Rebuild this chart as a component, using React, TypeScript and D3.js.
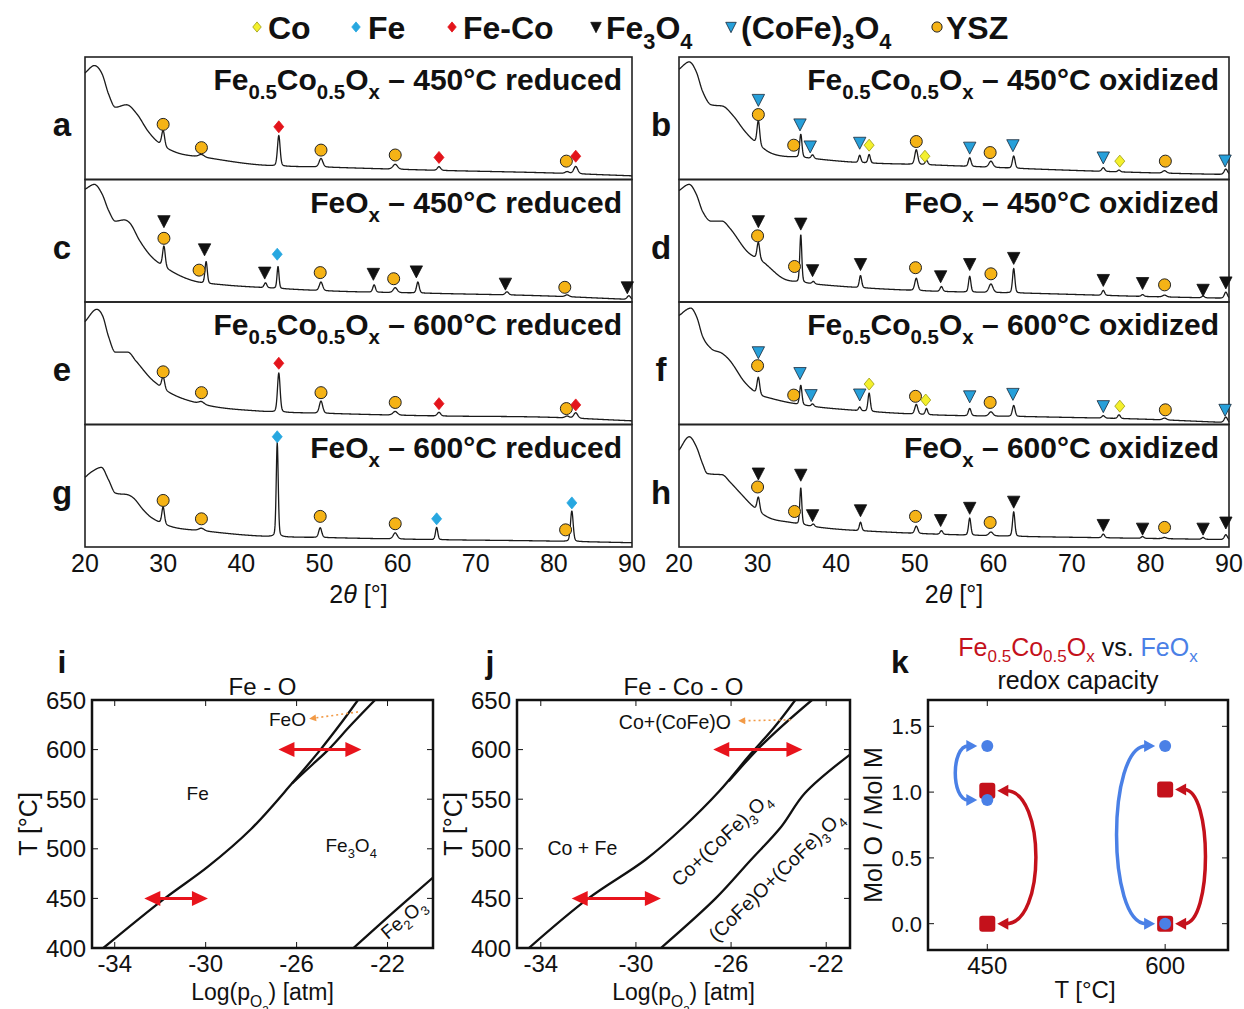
import React from "react";
import * as d3 from "d3";

const FONT = "'Liberation Sans', Arial, Helvetica, sans-serif";

type Knot = [number, number];
type Peak = [number, number, number]; // position, height, fwhm
type Mk = [string, number, number]; // phase, 2theta, height fraction

const TWO_THETA_TICKS = [20, 30, 40, 50, 60, 70, 80, 90];

// ---------- XRD panel a: Fe0.5Co0.5Ox 450 reduced ----------
const bgA: Knot[] = [[20, 0.87], [21.2, 0.93], [22.2, 0.86], [23.0, 0.7], [23.9, 0.59], [25.3, 0.61], [26.7, 0.53], [28.0, 0.4], [29.4, 0.3], [31.7, 0.22], [35.4, 0.18], [42.2, 0.12], [51.4, 0.1], [65, 0.075], [78.8, 0.055], [90, 0.03]];
const peaksA: Peak[] = [[30.0, 0.13, 0.45], [34.9, 0.02, 0.8], [44.8, 0.25, 0.4], [50.2, 0.07, 0.55], [59.7, 0.04, 0.7], [65.3, 0.03, 0.5], [81.7, 0.015, 0.6], [82.8, 0.06, 0.6]];
const markersA: Mk[] = [["YSZ", 30.0, 0.45], ["YSZ", 34.9, 0.26], ["FeCo", 44.8, 0.43], ["YSZ", 50.2, 0.24], ["YSZ", 59.7, 0.2], ["FeCo", 65.3, 0.18], ["YSZ", 81.6, 0.15], ["FeCo", 82.8, 0.19]];

// ---------- c: FeOx 450 reduced ----------
const bgC: Knot[] = [[20, 0.92], [21.2, 0.96], [22.2, 0.88], [23.0, 0.75], [23.9, 0.66], [25.0, 0.67], [25.8, 0.64], [27.0, 0.5], [28.5, 0.37], [30.8, 0.26], [34, 0.17], [37.7, 0.14], [42.2, 0.12], [51.4, 0.09], [65, 0.07], [78.8, 0.05], [90, 0.02]];
const peaksC: Peak[] = [[30.1, 0.17, 0.4], [35.5, 0.18, 0.35], [43.1, 0.04, 0.4], [44.7, 0.18, 0.3], [50.2, 0.07, 0.5], [57.0, 0.06, 0.4], [59.7, 0.04, 0.6], [62.6, 0.09, 0.4], [74.0, 0.025, 0.5], [81.7, 0.015, 0.6], [89.6, 0.03, 0.5]];
const markersC: Mk[] = [["Fe3O4", 30.1, 0.66], ["YSZ", 30.1, 0.52], ["Fe3O4", 35.3, 0.43], ["YSZ", 34.6, 0.26], ["Fe3O4", 43.0, 0.24], ["Fe", 44.6, 0.39], ["YSZ", 50.1, 0.24], ["Fe3O4", 56.9, 0.23], ["YSZ", 59.5, 0.19], ["Fe3O4", 62.4, 0.25], ["Fe3O4", 73.8, 0.15], ["YSZ", 81.4, 0.12], ["Fe3O4", 89.4, 0.12]];

// ---------- e: Fe0.5Co0.5Ox 600 reduced ----------
const bgE: Knot[] = [[20, 0.84], [21.5, 0.94], [22.3, 0.88], [23.0, 0.72], [23.9, 0.59], [25.5, 0.59], [26.5, 0.52], [28.5, 0.37], [30.8, 0.26], [35.4, 0.16], [42.2, 0.11], [51.4, 0.09], [65, 0.07], [78.8, 0.06], [90, 0.03]];
const peaksE: Peak[] = [[30.0, 0.1, 0.45], [34.9, 0.02, 0.8], [44.8, 0.32, 0.4], [50.2, 0.1, 0.5], [59.7, 0.03, 0.7], [65.3, 0.03, 0.5], [81.7, 0.015, 0.6], [82.8, 0.045, 0.6]];
const markersE: Mk[] = [["YSZ", 30.0, 0.43], ["YSZ", 34.9, 0.26], ["FeCo", 44.8, 0.5], ["YSZ", 50.2, 0.26], ["YSZ", 59.7, 0.18], ["FeCo", 65.3, 0.17], ["YSZ", 81.6, 0.13], ["FeCo", 82.8, 0.16]];

// ---------- g: FeOx 600 reduced ----------
const bgG: Knot[] = [[20, 0.57], [21, 0.62], [22.1, 0.65], [23.0, 0.55], [23.9, 0.44], [25.2, 0.43], [26.2, 0.4], [27.5, 0.3], [28.5, 0.24], [30.8, 0.17], [35.4, 0.13], [42.2, 0.09], [51.4, 0.076], [65, 0.06], [78, 0.05], [90, 0.035]];
const peaksG: Peak[] = [[30.0, 0.14, 0.4], [34.9, 0.02, 0.8], [44.6, 0.77, 0.3], [50.1, 0.08, 0.45], [59.7, 0.05, 0.6], [65.0, 0.1, 0.35], [82.3, 0.25, 0.4]];
const markersG: Mk[] = [["YSZ", 30.0, 0.38], ["YSZ", 34.9, 0.23], ["Fe", 44.6, 0.9], ["YSZ", 50.1, 0.25], ["YSZ", 59.7, 0.19], ["Fe", 65.0, 0.23], ["YSZ", 81.5, 0.14], ["Fe", 82.3, 0.36]];

// ---------- b: Fe0.5Co0.5Ox 450 oxidized ----------
const bgB: Knot[] = [[20, 0.9], [21.3, 0.96], [22.2, 0.88], [23.0, 0.72], [24.1, 0.61], [25.5, 0.6], [26.9, 0.52], [28.3, 0.4], [29.6, 0.31], [31.9, 0.21], [35.6, 0.18], [42.5, 0.14], [51.7, 0.12], [65.5, 0.085], [79.3, 0.056], [90, 0.04]];
const peaksB: Peak[] = [[30.1, 0.2, 0.4], [35.5, 0.19, 0.35], [37.0, 0.03, 0.4], [43.0, 0.06, 0.35], [44.2, 0.07, 0.35], [50.2, 0.12, 0.45], [51.5, 0.035, 0.4], [57.0, 0.07, 0.4], [59.7, 0.05, 0.6], [62.6, 0.1, 0.4], [74.0, 0.03, 0.45], [76.0, 0.015, 0.4], [81.8, 0.02, 0.6], [89.6, 0.045, 0.5]];
const markersB: Mk[] = [["CoFe", 30.1, 0.65], ["YSZ", 30.1, 0.53], ["CoFe", 35.4, 0.45], ["YSZ", 34.6, 0.28], ["CoFe", 36.7, 0.27], ["CoFe", 43.0, 0.3], ["Co", 44.2, 0.28], ["YSZ", 50.2, 0.31], ["Co", 51.3, 0.19], ["CoFe", 57.0, 0.26], ["YSZ", 59.6, 0.22], ["CoFe", 62.5, 0.28], ["CoFe", 74.0, 0.18], ["Co", 76.1, 0.15], ["YSZ", 81.9, 0.15], ["CoFe", 89.5, 0.155]];

// ---------- d: FeOx 450 oxidized ----------
const bgD: Knot[] = [[20, 0.91], [21.3, 0.96], [22.2, 0.88], [23.0, 0.74], [24.1, 0.66], [25.5, 0.66], [26.5, 0.6], [28.7, 0.41], [30.8, 0.32], [33.3, 0.19], [35.6, 0.16], [40.2, 0.13], [51.7, 0.09], [65.5, 0.07], [79.3, 0.045], [90, 0.03]];
const peaksD: Peak[] = [[30.1, 0.14, 0.4], [35.5, 0.39, 0.3], [37.1, 0.02, 0.4], [43.1, 0.1, 0.35], [50.2, 0.1, 0.45], [53.4, 0.04, 0.4], [57.0, 0.13, 0.35], [59.7, 0.07, 0.6], [62.6, 0.2, 0.35], [74.0, 0.04, 0.4], [79.0, 0.015, 0.4], [81.8, 0.015, 0.6], [86.7, 0.015, 0.4], [89.6, 0.05, 0.45]];
const markersD: Mk[] = [["Fe3O4", 30.1, 0.66], ["YSZ", 30.0, 0.54], ["Fe3O4", 35.5, 0.64], ["YSZ", 34.7, 0.29], ["Fe3O4", 37.0, 0.26], ["Fe3O4", 43.1, 0.31], ["YSZ", 50.1, 0.28], ["Fe3O4", 53.3, 0.21], ["Fe3O4", 57.0, 0.31], ["YSZ", 59.7, 0.23], ["Fe3O4", 62.6, 0.36], ["Fe3O4", 74.0, 0.18], ["Fe3O4", 79.0, 0.155], ["YSZ", 81.8, 0.14], ["Fe3O4", 86.7, 0.1], ["Fe3O4", 89.6, 0.16]];

// ---------- f: Fe0.5Co0.5Ox 600 oxidized ----------
const bgF: Knot[] = [[20, 0.89], [21.5, 0.95], [22.3, 0.87], [23.0, 0.72], [24.1, 0.62], [25.5, 0.58], [26.5, 0.52], [28.3, 0.35], [30.0, 0.25], [31.9, 0.21], [35.6, 0.16], [42.5, 0.115], [51.7, 0.08], [65.5, 0.063], [79.3, 0.043], [90, 0.015]];
const peaksF: Peak[] = [[30.1, 0.14, 0.4], [35.5, 0.16, 0.35], [37.0, 0.02, 0.4], [43.0, 0.03, 0.35], [44.2, 0.15, 0.35], [50.2, 0.08, 0.45], [51.5, 0.05, 0.35], [57.0, 0.06, 0.4], [59.7, 0.035, 0.6], [62.6, 0.09, 0.4], [74.0, 0.02, 0.45], [76.0, 0.03, 0.4], [81.8, 0.015, 0.6], [89.6, 0.045, 0.5]];
const markersF: Mk[] = [["CoFe", 30.1, 0.59], ["YSZ", 30.0, 0.48], ["CoFe", 35.4, 0.42], ["YSZ", 34.6, 0.24], ["CoFe", 36.8, 0.24], ["CoFe", 43.0, 0.245], ["Co", 44.2, 0.33], ["YSZ", 50.1, 0.23], ["Co", 51.4, 0.2], ["CoFe", 57.0, 0.23], ["YSZ", 59.6, 0.18], ["CoFe", 62.5, 0.25], ["CoFe", 74.0, 0.15], ["Co", 76.1, 0.15], ["YSZ", 81.9, 0.12], ["CoFe", 89.5, 0.12]];

// ---------- h: FeOx 600 oxidized ----------
const bgH: Knot[] = [[20, 0.79], [21.3, 0.9], [22.2, 0.82], [23.0, 0.68], [23.6, 0.6], [25.5, 0.59], [26.5, 0.53], [27.8, 0.44], [29.6, 0.32], [31.4, 0.24], [34.2, 0.2], [37.9, 0.16], [47.1, 0.12], [60.9, 0.09], [74.7, 0.075], [90, 0.06]];
const peaksH: Peak[] = [[30.1, 0.115, 0.4], [35.5, 0.3, 0.3], [37.1, 0.02, 0.4], [43.1, 0.07, 0.35], [50.2, 0.06, 0.45], [53.4, 0.03, 0.4], [57.0, 0.14, 0.35], [59.7, 0.03, 0.6], [62.6, 0.2, 0.35], [74.0, 0.03, 0.4], [79.0, 0.015, 0.4], [81.8, 0.01, 0.6], [86.7, 0.015, 0.4], [89.6, 0.04, 0.45]];
const markersH: Mk[] = [["Fe3O4", 30.1, 0.6], ["YSZ", 30.0, 0.49], ["Fe3O4", 35.5, 0.59], ["YSZ", 34.7, 0.29], ["Fe3O4", 37.0, 0.26], ["Fe3O4", 43.1, 0.3], ["YSZ", 50.1, 0.25], ["Fe3O4", 53.3, 0.22], ["Fe3O4", 57.0, 0.32], ["YSZ", 59.6, 0.2], ["Fe3O4", 62.6, 0.37], ["Fe3O4", 74.0, 0.18], ["Fe3O4", 79.0, 0.15], ["YSZ", 81.8, 0.16], ["Fe3O4", 86.7, 0.15], ["Fe3O4", 89.6, 0.2]];

const LEGEND_TYPES = ["Co", "Fe", "FeCo", "Fe3O4", "CoFe", "YSZ"];

// ---------- Phase diagram i (Fe-O) ----------
const I_X_TICKS = [-34, -30, -26, -22];
const T_TICKS = [400, 450, 500, 550, 600, 650];
const feLineA: Knot[] = [[-34.5, 400], [-31.8, 450], [-29.9, 482], [-28.0, 520], [-26.2, 566], [-24.95, 600], [-24.1, 625], [-23.3, 650]];
const feLineB: Knot[] = [[-26.2, 566], [-25.3, 585], [-24.6, 600], [-23.6, 625], [-22.55, 650]];
const feLineC: Knot[] = [[-23.5, 400], [-21.8, 435], [-20, 471]];
const iArrows: [number, number, number][] = [[-32.7, -29.9, 450], [-26.8, -23.15, 600]];

// ---------- Phase diagram j (Fe-Co-O) ----------
const J_X_TICKS = [-34, -30, -26, -22];
const fecoLineA: Knot[] = [[-34.5, 400], [-32.0, 450], [-29.6, 489], [-28.0, 522], [-26.5, 558], [-25.2, 595], [-24.2, 622], [-23.3, 650]];
const fecoLineB: Knot[] = [[-26.1, 568], [-24.9, 600], [-23.8, 625], [-22.6, 650]];
const fecoLineC: Knot[] = [[-28.95, 400], [-26.65, 450], [-25.2, 488], [-23.9, 522], [-22.9, 556], [-21.0, 595]];
const jArrows: [number, number, number][] = [[-32.7, -28.95, 450], [-26.75, -23.0, 600]];

// ---------- Panel k: redox capacity ----------
const K_TEMPS = [450, 600];
const K_Y_TICKS = [0.0, 0.5, 1.0, 1.5];
const feOxOxidized = [1.35, 1.35];
const feOxReduced = [0.94, 0.0];
const feCoOxidized = [1.01, 1.02];
const feCoReduced = [0.0, 0.0];
const feOxArrowReach = [423, 559];
const feCoArrowReach = [491, 634];

const RED = "#c4111b";
const BLUE = "#4a80e6";
const ARROW_RED = "#e8141c";

function makeInterp(knots: Knot[]) {
  const n = knots.length;
  const xs = knots.map((k) => k[0]);
  const ys = knots.map((k) => k[1]);
  const d: number[] = [];
  for (let i = 0; i < n - 1; i++) d.push((ys[i + 1] - ys[i]) / (xs[i + 1] - xs[i]));
  const m: number[] = new Array(n).fill(0);
  m[0] = d[0];
  m[n - 1] = d[n - 2];
  for (let i = 1; i < n - 1; i++) m[i] = d[i - 1] * d[i] <= 0 ? 0 : (d[i - 1] + d[i]) / 2;
  for (let i = 0; i < n - 1; i++) {
    if (d[i] === 0) { m[i] = 0; m[i + 1] = 0; continue; }
    const a = m[i] / d[i], b = m[i + 1] / d[i], s = a * a + b * b;
    if (s > 9) { const t = 3 / Math.sqrt(s); m[i] = t * a * d[i]; m[i + 1] = t * b * d[i]; }
  }
  return (x: number) => {
    let i = 0;
    while (i < n - 2 && x > xs[i + 1]) i++;
    const h = xs[i + 1] - xs[i];
    const t = (x - xs[i]) / h;
    const t2 = t * t, t3 = t2 * t;
    return (2 * t3 - 3 * t2 + 1) * ys[i] + (t3 - 2 * t2 + t) * h * m[i] + (-2 * t3 + 3 * t2) * ys[i + 1] + (t3 - t2) * h * m[i + 1];
  };
}

type Seg = { t: string; l?: number; i?: boolean };

function Rich(props: any) {
  const { segs, x = 0, y = 0, size, anchor = "start", weight = "normal", fill = "#111", transform } = props;
  const shift = size * 0.3;
  let cur = 0;
  const sizes = [size, size * 0.68, size * 0.5];
  return (
    <text x={x} y={y} textAnchor={anchor} fontWeight={weight} fill={fill} fontFamily={FONT} fontSize={size} transform={transform}>
      {segs.map((s: Seg, k: number) => {
        const lvl = s.l || 0;
        const dy = (lvl - cur) * shift;
        cur = lvl;
        return (
          <tspan key={k} dy={dy !== 0 ? dy : undefined} fontSize={sizes[lvl]} fontStyle={s.i ? "italic" : undefined}>
            {s.t}
          </tspan>
        );
      })}
    </text>
  );
}

function Marker({ type, x, y, s = 1 }: { type: string; x: number; y: number; s?: number }) {
  if (type === "YSZ") return <circle cx={x} cy={y} r={6 * s} fill="#f5b316" stroke="#222" strokeWidth={1} />;
  if (type === "Fe3O4" || type === "CoFe") {
    const w = 6.2 * s, h = 5.5 * s;
    return (
      <path d={`M${x - w},${y - h}L${x + w},${y - h}L${x},${y + h + 1}Z`} fill={type === "Fe3O4" ? "#111" : "#27a0da"} stroke={type === "Fe3O4" ? "#111" : "#1a2a3a"} strokeWidth={0.8} />
    );
  }
  const fills: any = { Fe: "#27a7e0", FeCo: "#e3141b", Co: "#f4f02c" };
  const strokes: any = { Fe: "#27a7e0", FeCo: "#e3141b", Co: "#9a9a10" };
  const w = 5 * s, h = 6 * s;
  return <path d={`M${x},${y - h}L${x + w},${y}L${x},${y + h}L${x - w},${y}Z`} fill={fills[type]} stroke={strokes[type]} strokeWidth={0.8} />;
}

function titleSegs(comp: string, temp: string, state: string): Seg[] {
  const tail = { t: ` \u2013 ${temp}\u00b0C ${state}` };
  if (comp === "FeCo") return [{ t: "Fe" }, { t: "0.5", l: 1 }, { t: "Co" }, { t: "0.5", l: 1 }, { t: "O" }, { t: "x", l: 1 }, tail];
  return [{ t: "FeO" }, { t: "x", l: 1 }, tail];
}

const xrdPanels = [
  { id: "a", col: 0, row: 0, comp: "FeCo", temp: "450", state: "reduced", bg: bgA, peaks: peaksA, marks: markersA },
  { id: "c", col: 0, row: 1, comp: "Fe", temp: "450", state: "reduced", bg: bgC, peaks: peaksC, marks: markersC },
  { id: "e", col: 0, row: 2, comp: "FeCo", temp: "600", state: "reduced", bg: bgE, peaks: peaksE, marks: markersE },
  { id: "g", col: 0, row: 3, comp: "Fe", temp: "600", state: "reduced", bg: bgG, peaks: peaksG, marks: markersG },
  { id: "b", col: 1, row: 0, comp: "FeCo", temp: "450", state: "oxidized", bg: bgB, peaks: peaksB, marks: markersB },
  { id: "d", col: 1, row: 1, comp: "Fe", temp: "450", state: "oxidized", bg: bgD, peaks: peaksD, marks: markersD },
  { id: "f", col: 1, row: 2, comp: "FeCo", temp: "600", state: "oxidized", bg: bgF, peaks: peaksF, marks: markersF },
  { id: "h", col: 1, row: 3, comp: "Fe", temp: "600", state: "oxidized", bg: bgH, peaks: peaksH, marks: markersH },
];

const COLS: [number, number][] = [[85, 632], [679, 1229]];
const ROWS = [57, 179.5, 302, 424.5, 547];

function XrdPanel({ p }: { p: any }) {
  const [x0, x1] = COLS[p.col];
  const top = ROWS[p.row], bottom = ROWS[p.row + 1];
  const xs = d3.scaleLinear().domain([20, 90]).range([x0, x1]);
  const ys = d3.scaleLinear().domain([0, 1]).range([bottom, top]);
  const f = makeInterp(p.bg);
  const pts: [number, number][] = [];
  for (let i = 0; i <= 1750; i++) {
    const t = 20 + i * 0.04;
    let v = f(t);
    for (const [pos, h, w] of p.peaks) {
      const dd = (t - pos) / w;
      v += h * (0.75 * Math.exp(-2.7726 * dd * dd) + 0.25 / (1 + 4 * dd * dd));
    }
    pts.push([t, v]);
  }
  const path = d3.line<[number, number]>().x((d) => xs(d[0])).y((d) => ys(d[1]))(pts) || "";
  const letterX = p.col === 0 ? 62 : 661;
  return (
    <g>
      <rect x={x0} y={top} width={x1 - x0} height={bottom - top} fill="none" stroke="#222" strokeWidth={1.6} />
      <path d={path} fill="none" stroke="#1a1a1a" strokeWidth={1.3} strokeLinejoin="round" />
      {p.marks.map((m: Mk, k: number) => (
        <Marker key={k} type={m[0]} x={xs(m[1])} y={ys(m[2])} />
      ))}
      <Rich segs={titleSegs(p.comp, p.temp, p.state)} x={x1 - 10} y={top + 33} size={30} anchor="end" weight="bold" />
      <text x={letterX} y={top + 79} textAnchor="middle" fontFamily={FONT} fontWeight="bold" fontSize={33} fill="#111">
        {p.id}
      </text>
      {p.row === 3 && (
        <g>
          {TWO_THETA_TICKS.map((t) => (
            <text key={t} x={xs(t)} y={572} textAnchor="middle" fontFamily={FONT} fontSize={25} fill="#111">
              {t}
            </text>
          ))}
          <Rich segs={[{ t: "2" }, { t: "\u03b8", i: true }, { t: " [\u00b0]" }]} x={(x0 + x1) / 2} y={603} size={25} anchor="middle" />
        </g>
      )}
    </g>
  );
}

function DoubleArrow({ x1, x2, y, color }: { x1: number; x2: number; y: number; color: string }) {
  const hl = 16, hw = 7.5;
  return (
    <g>
      <line x1={x1 + hl - 2} x2={x2 - hl + 2} y1={y} y2={y} stroke={color} strokeWidth={3} />
      <path d={`M${x1},${y}L${x1 + hl},${y - hw}L${x1 + hl},${y + hw}Z`} fill={color} />
      <path d={`M${x2},${y}L${x2 - hl},${y - hw}L${x2 - hl},${y + hw}Z`} fill={color} />
    </g>
  );
}

function DottedArrow({ x1, y1, x2, y2 }: { x1: number; y1: number; x2: number; y2: number }) {
  const ang = Math.atan2(y2 - y1, x2 - x1);
  const hl = 7, hw = 3.5;
  const bx = x2 - hl * Math.cos(ang), by = y2 - hl * Math.sin(ang);
  const px = -Math.sin(ang) * hw, py = Math.cos(ang) * hw;
  return (
    <g>
      <line x1={x1} y1={y1} x2={bx} y2={by} stroke="#f29a46" strokeWidth={1.6} strokeDasharray="2,3" />
      <path d={`M${x2},${y2}L${bx + px},${by + py}L${bx - px},${by - py}Z`} fill="#f29a46" />
    </g>
  );
}

function PhaseFrame(props: any) {
  const { xs, ys, xTicks, id, clip } = props;
  const [l, r] = xs.range();
  const [b, t] = ys.range();
  return (
    <g>
      <defs>
        <clipPath id={clip}>
          <rect x={l} y={t} width={r - l} height={b - t} />
        </clipPath>
      </defs>
      {xTicks.map((v: number) => (
        <g key={v}>
          <line x1={xs(v)} x2={xs(v)} y1={b} y2={b - 6} stroke="#111" strokeWidth={1} />
          <line x1={xs(v)} x2={xs(v)} y1={t} y2={t + 6} stroke="#111" strokeWidth={1} />
          <text x={xs(v)} y={972} textAnchor="middle" fontFamily={FONT} fontSize={24} fill="#111">
            {v}
          </text>
        </g>
      ))}
      {T_TICKS.map((v) => (
        <g key={v}>
          <line x1={l} x2={l + 6} y1={ys(v)} y2={ys(v)} stroke="#111" strokeWidth={1} />
          <line x1={r} x2={r - 6} y1={ys(v)} y2={ys(v)} stroke="#111" strokeWidth={1} />
          <text x={l - 6} y={ys(v) + 8.5} textAnchor="end" fontFamily={FONT} fontSize={24} fill="#111">
            {v}
          </text>
        </g>
      ))}
      <Rich segs={[{ t: "Log(p" }, { t: "O", l: 1 }, { t: "2", l: 2 }, { t: ") [atm]" }]} x={(l + r) / 2} y={1000} size={23} anchor="middle" />
      <text transform={`translate(${l - 64},${(b + t) / 2}) rotate(-90)`} textAnchor="middle" dy="0.35em" fontFamily={FONT} fontSize={25} fill="#111">
        T [°C]
      </text>
      <text x={props.letterX} y={673} textAnchor="middle" fontFamily={FONT} fontWeight="bold" fontSize={32} fill="#111">
        {id}
      </text>
      <text x={(l + r) / 2} y={695} textAnchor="middle" fontFamily={FONT} fontSize={24} fill="#111">
        {props.title}
      </text>
    </g>
  );
}

function PanelI() {
  const xs = d3.scaleLinear().domain([-35, -20]).range([92, 433]);
  const ys = d3.scaleLinear().domain([400, 650]).range([948, 700]);
  const line = d3.line<Knot>().x((d) => xs(d[0])).y((d) => ys(d[1])).curve(d3.curveCatmullRom.alpha(0.5));
  return (
    <g>
      <PhaseFrame xs={xs} ys={ys} xTicks={I_X_TICKS} id="i" clip="clipI" letterX={62} title="Fe - O" />
      <g clipPath="url(#clipI)" fill="none" stroke="#111" strokeWidth={2.3}>
        <path d={line(feLineA) || ""} />
        <path d={line(feLineB) || ""} />
        <path d={line(feLineC) || ""} />
      </g>
      <rect x={92} y={700} width={341} height={248} fill="none" stroke="#111" strokeWidth={2.5} />
      {iArrows.map((a, k) => (
        <DoubleArrow key={k} x1={xs(a[0])} x2={xs(a[1])} y={ys(a[2])} color={ARROW_RED} />
      ))}
      <DottedArrow x1={xs(-23.3)} y1={ys(638)} x2={xs(-25.45)} y2={ys(631)} />
      <text x={xs(-26.4)} y={ys(630)} dy="0.35em" textAnchor="middle" fontFamily={FONT} fontSize={19} fill="#111">FeO</text>
      <text x={xs(-30.35)} y={ys(556)} dy="0.35em" textAnchor="middle" fontFamily={FONT} fontSize={19} fill="#111">Fe</text>
      <Rich segs={[{ t: "Fe" }, { t: "3", l: 1 }, { t: "O" }, { t: "4", l: 1 }]} x={xs(-23.6)} y={ys(503) + 6} size={19} anchor="middle" />
      <Rich segs={[{ t: "Fe" }, { t: "2", l: 1 }, { t: "O" }, { t: "3", l: 1 }]} y={6} size={19} anchor="middle" transform={`translate(${xs(-21.3)},${ys(429)}) rotate(-40)`} />
    </g>
  );
}

function PanelJ() {
  const xs = d3.scaleLinear().domain([-35, -21]).range([517, 850]);
  const ys = d3.scaleLinear().domain([400, 650]).range([948, 700]);
  const line = d3.line<Knot>().x((d) => xs(d[0])).y((d) => ys(d[1])).curve(d3.curveCatmullRom.alpha(0.5));
  return (
    <g>
      <PhaseFrame xs={xs} ys={ys} xTicks={J_X_TICKS} id="j" clip="clipJ" letterX={490} title="Fe - Co - O" />
      <g clipPath="url(#clipJ)" fill="none" stroke="#111" strokeWidth={2.3}>
        <path d={line(fecoLineA) || ""} />
        <path d={line(fecoLineB) || ""} />
        <path d={line(fecoLineC) || ""} />
      </g>
      <rect x={517} y={700} width={333} height={248} fill="none" stroke="#111" strokeWidth={2.5} />
      {jArrows.map((a, k) => (
        <DoubleArrow key={k} x1={xs(a[0])} x2={xs(a[1])} y={ys(a[2])} color={ARROW_RED} />
      ))}
      <DottedArrow x1={xs(-23.5)} y1={ys(630)} x2={xs(-25.7)} y2={ys(629)} />
      <text x={xs(-28.36)} y={ys(628)} dy="0.35em" textAnchor="middle" fontFamily={FONT} fontSize={19.5} fill="#111">Co+(CoFe)O</text>
      <text x={xs(-32.25)} y={ys(501)} dy="0.35em" textAnchor="middle" fontFamily={FONT} fontSize={19.5} fill="#111">Co + Fe</text>
      <Rich segs={[{ t: "Co+(CoFe)" }, { t: "3", l: 1 }, { t: "O" }, { t: "4", l: 1 }]} y={6} size={19.5} anchor="middle" transform={`translate(${xs(-26.4)},${ys(509)}) rotate(-43)`} />
      <Rich segs={[{ t: "(CoFe)O+(CoFe)" }, { t: "3", l: 1 }, { t: "O" }, { t: "4", l: 1 }]} y={6} size={19.5} anchor="middle" transform={`translate(${xs(-24.1)},${ys(472)}) rotate(-44)`} />
    </g>
  );
}

function CurvedArrow({ xTip, y1, y2, xReach, color }: { xTip: number; y1: number; y2: number; xReach: number; color: string }) {
  const side = Math.sign(xReach - xTip);
  const hl = 11, hw = 6;
  const xs0 = xTip + side * (hl - 2);
  const cx = xs0 + (xReach - xs0) / 0.75;
  const d = `M${xs0},${y1}C${cx},${y1} ${cx},${y2} ${xs0},${y2}`;
  const head = (y: number) => `M${xTip},${y}L${xTip + side * hl},${y - hw}L${xTip + side * hl},${y + hw}Z`;
  return (
    <g>
      <path d={d} fill="none" stroke={color} strokeWidth={3.5} />
      <path d={head(y1)} fill={color} />
      <path d={head(y2)} fill={color} />
    </g>
  );
}

function PanelK() {
  const xs = d3.scaleLinear().domain([400, 653]).range([928, 1228]);
  const ys = d3.scaleLinear().domain([-0.2, 1.7]).range([950, 700]);
  const [l, r] = xs.range();
  const [b, t] = ys.range();
  return (
    <g>
      {K_Y_TICKS.map((v) => (
        <g key={v}>
          <line x1={l} x2={l + 6} y1={ys(v)} y2={ys(v)} stroke="#111" />
          <line x1={r} x2={r - 6} y1={ys(v)} y2={ys(v)} stroke="#111" />
          <text x={l - 6} y={ys(v) + 8} textAnchor="end" fontFamily={FONT} fontSize={22} fill="#111">
            {v.toFixed(1)}
          </text>
        </g>
      ))}
      {K_TEMPS.map((v) => (
        <g key={v}>
          <line x1={xs(v)} x2={xs(v)} y1={b} y2={b - 6} stroke="#111" />
          <line x1={xs(v)} x2={xs(v)} y1={t} y2={t + 6} stroke="#111" />
          <text x={xs(v)} y={974} textAnchor="middle" fontFamily={FONT} fontSize={24} fill="#111">
            {v}
          </text>
        </g>
      ))}
      <rect x={l} y={t} width={r - l} height={b - t} fill="none" stroke="#111" strokeWidth={2.5} />
      <text x={1085} y={998} textAnchor="middle" fontFamily={FONT} fontSize={24} fill="#111">T [°C]</text>
      <text transform={`translate(873,${(b + t) / 2}) rotate(-90)`} textAnchor="middle" dy="0.35em" fontFamily={FONT} fontSize={25} fill="#111">
        Mol O / Mol M
      </text>
      <text x={900} y={673} textAnchor="middle" fontFamily={FONT} fontWeight="bold" fontSize={32} fill="#111">k</text>
      <text x={1078} y={656} textAnchor="middle" fontFamily={FONT} fontSize={25}>
        <tspan fill={RED}>Fe</tspan>
        <tspan fill={RED} fontSize={17} dy={6}>0.5</tspan>
        <tspan fill={RED} dy={-6}>Co</tspan>
        <tspan fill={RED} fontSize={17} dy={6}>0.5</tspan>
        <tspan fill={RED} dy={-6}>O</tspan>
        <tspan fill={RED} fontSize={17} dy={6}>x</tspan>
        <tspan fill="#111" dy={-6}> vs. </tspan>
        <tspan fill={BLUE}>FeO</tspan>
        <tspan fill={BLUE} fontSize={17} dy={6}>x</tspan>
      </text>
      <text x={1078} y={689} textAnchor="middle" fontFamily={FONT} fontSize={25} fill="#111">redox capacity</text>
      {K_TEMPS.map((T, k) => (
        <g key={"a" + T}>
          <CurvedArrow xTip={xs(T) - 10} y1={ys(feOxOxidized[k])} y2={ys(feOxReduced[k])} xReach={xs(feOxArrowReach[k])} color={BLUE} />
          <CurvedArrow xTip={xs(T) + 10} y1={ys(feCoOxidized[k])} y2={ys(feCoReduced[k])} xReach={xs(feCoArrowReach[k])} color={RED} />
        </g>
      ))}
      {K_TEMPS.map((T, k) => (
        <g key={"s" + T}>
          {[feCoOxidized[k], feCoReduced[k]].map((v, j) => (
            <rect key={j} x={xs(T) - 8} y={ys(v) - 8} width={16} height={16} rx={3} fill={RED} />
          ))}
        </g>
      ))}
      {K_TEMPS.map((T, k) => (
        <g key={"c" + T}>
          {[feOxOxidized[k], feOxReduced[k]].map((v, j) => (
            <circle key={j} cx={xs(T)} cy={ys(v)} r={6} fill={BLUE} />
          ))}
        </g>
      ))}
    </g>
  );
}

function Legend() {
  const pos: [number, number][] = [[257, 268], [356, 368], [452, 463], [596, 606], [731, 741], [937, 946]];
  const labels: Seg[][] = [
    [{ t: "Co" }],
    [{ t: "Fe" }],
    [{ t: "Fe-Co" }],
    [{ t: "Fe" }, { t: "3", l: 1 }, { t: "O" }, { t: "4", l: 1 }],
    [{ t: "(CoFe)" }, { t: "3", l: 1 }, { t: "O" }, { t: "4", l: 1 }],
    [{ t: "YSZ" }],
  ];
  return (
    <g>
      {LEGEND_TYPES.map((type, k) => (
        <g key={type}>
          <Marker type={type} x={pos[k][0]} y={27} s={0.85} />
          <Rich segs={labels[k]} x={pos[k][1]} y={39} size={32} weight="bold" />
        </g>
      ))}
    </g>
  );
}

export default function App() {
  return (
    <svg width={1244} height={1009} style={{ position: "absolute", left: 0, top: 0, display: "block" }} fontFamily={FONT}>
      <rect width={1244} height={1009} fill="#fff" />
      <Legend />
      {xrdPanels.map((p) => (
        <XrdPanel key={p.id} p={p} />
      ))}
      <PanelI />
      <PanelJ />
      <PanelK />
    </svg>
  );
}
